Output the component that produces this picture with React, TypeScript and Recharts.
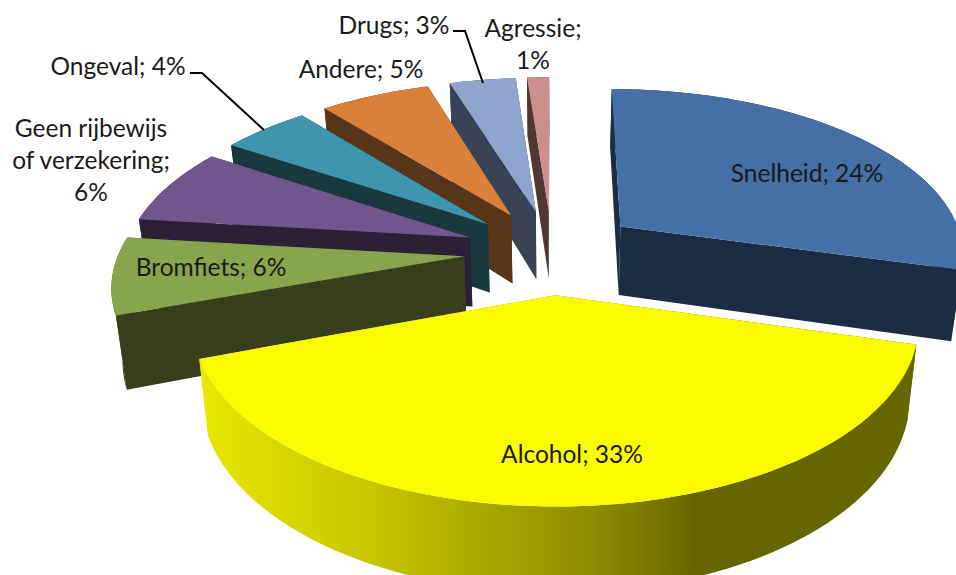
import React from 'react';
import { PieChart, Pie } from 'recharts';

// Listed back to front, because the pie paints its sectors in data order
const categories = ['Snelheid', 'Agressie', 'Drugs', 'Andere', 'Ongeval', 'Geen rijbewijs of verzekering', 'Bromfiets', 'Alcohol'];
const percentages = [24, 1, 3, 5, 4, 6, 6, 33];
const topColors = ['#4470A5', '#CC8F8E', '#90A5CE', '#D9813B', '#3F95AD', '#70568D', '#88A44C', '#FAFA00'];
const sideColors = ['#1B2C43', '#503635', '#394355', '#573518', '#19393F', '#2B2035', '#363E1D', 'url(#alcoholWall)'];

const chartData = categories.map((name, i) => ({ name, value: percentages[i] }));

// Projection of the tilted pie
const VERTICAL_RADIUS = 165;
const PERSPECTIVE = 0.15;
const EXPLODE = 0.255;
const DEPTH = 70;
const BOTTOM_SHRINK = 0.975;
const RAD = Math.PI / 180;

function SliceShape(props: any) {
  const { cx, cy, outerRadius, startAngle, endAngle, index } = props;
  const mid = ((startAngle + endAngle) / 2) * RAD;
  const ox = EXPLODE * Math.cos(mid);
  const oy = EXPLODE * Math.sin(mid);

  const project = (px: number, py: number, low: boolean) => {
    const w = 1 + PERSPECTIVE * py;
    const x = (outerRadius * px) / w;
    const y = cy - (VERTICAL_RADIUS * py) / w;
    return low ? [cx + x * BOTTOM_SHRINK, y + DEPTH / w] : [cx + x, y];
  };
  const apex = (low: boolean) => project(ox, oy, low);
  const rim = (deg: number, low: boolean) => project(ox + Math.cos(deg * RAD), oy + Math.sin(deg * RAD), low);

  const steps = Math.max(2, Math.ceil(Math.abs(endAngle - startAngle)));
  const angles = Array.from({ length: steps + 1 }, (_, i) => startAngle + ((endAngle - startAngle) * i) / steps);
  const toPath = (pts: number[][]) => 'M' + pts.map((p) => `${p[0].toFixed(1)},${p[1].toFixed(1)}`).join('L') + 'Z';

  const top = toPath([apex(false), ...angles.map((a) => rim(a, false))]);
  const wall = toPath([...angles.map((a) => rim(a, false)), ...angles.slice().reverse().map((a) => rim(a, true))]);
  const startWall = toPath([apex(false), rim(startAngle, false), rim(startAngle, true), apex(true)]);
  const endWall = toPath([apex(false), rim(endAngle, false), rim(endAngle, true), apex(true)]);

  return (
    <g>
      {categories[index] === 'Alcohol' && (
        <defs>
          <linearGradient id="alcoholWall" gradientUnits="userSpaceOnUse" x1="200" y1="0" x2="917" y2="0">
            <stop offset="0" stopColor="#E8E800" />
            <stop offset="0.25" stopColor="#C4C400" />
            <stop offset="0.55" stopColor="#8C8C00" />
            <stop offset="0.69" stopColor="#666600" />
            <stop offset="1" stopColor="#666600" />
          </linearGradient>
        </defs>
      )}
      <path d={startWall} fill={sideColors[index]} />
      <path d={endWall} fill={sideColors[index]} />
      <path d={wall} fill={sideColors[index]} />
      <path d={top} fill={topColors[index]} />
    </g>
  );
}

const labelLayout: Record<string, { x: number; y: number; lines: (v: number) => string[]; leader?: string }> = {
  Snelheid: { x: 807, y: 172, lines: (v) => [`Snelheid; ${v}%`] },
  Agressie: { x: 533, y: 27, lines: (v) => ['Agressie;', `${v}%`] },
  Drugs: { x: 394, y: 24, lines: (v) => [`Drugs; ${v}%`], leader: '453,31 465,31 483,83' },
  Andere: { x: 361, y: 68, lines: (v) => [`Andere; ${v}%`] },
  Ongeval: { x: 118, y: 65, lines: (v) => [`Ongeval; ${v}%`], leader: '190,73 202,73 264,130' },
  'Geen rijbewijs of verzekering': { x: 91, y: 127, lines: (v) => ['Geen rijbewijs', 'of verzekering;', `${v}%`] },
  Bromfiets: { x: 211, y: 266, lines: (v) => [`Bromfiets; ${v}%`] },
  Alcohol: { x: 572, y: 453, lines: (v) => [`Alcohol; ${v}%`] },
};

function SliceLabel(props: any) {
  const name = categories[props.index];
  const spot = labelLayout[name];
  return (
    <g>
      {spot.leader && <polyline points={spot.leader} fill="none" stroke="#000" strokeWidth={2} />}
      {spot.lines(percentages[props.index]).map((line, i) => (
        <text
          key={line}
          x={spot.x}
          y={spot.y + i * 32}
          textAnchor="middle"
          dominantBaseline="central"
          fontFamily="Lato, sans-serif"
          fontSize={24.5}
          fill="#1a1a1a"
        >
          {line}
        </text>
      ))}
    </g>
  );
}

export default function App() {
  return (
    <div style={{ width: 956, height: 575, background: '#fff', overflow: 'hidden' }}>
      <style>{'body{margin:0}'}</style>
      <PieChart width={956} height={575} margin={{ top: 0, right: 0, bottom: 0, left: 0 }}>
        <Pie
          data={chartData}
          dataKey="value"
          nameKey="name"
          cx={552}
          cy={251.5}
          outerRadius={345}
          startAngle={-15.37}
          endAngle={344.63}
          shape={SliceShape}
          label={SliceLabel}
          labelLine={false}
          stroke="none"
          isAnimationActive={false}
        />
      </PieChart>
    </div>
  );
}
